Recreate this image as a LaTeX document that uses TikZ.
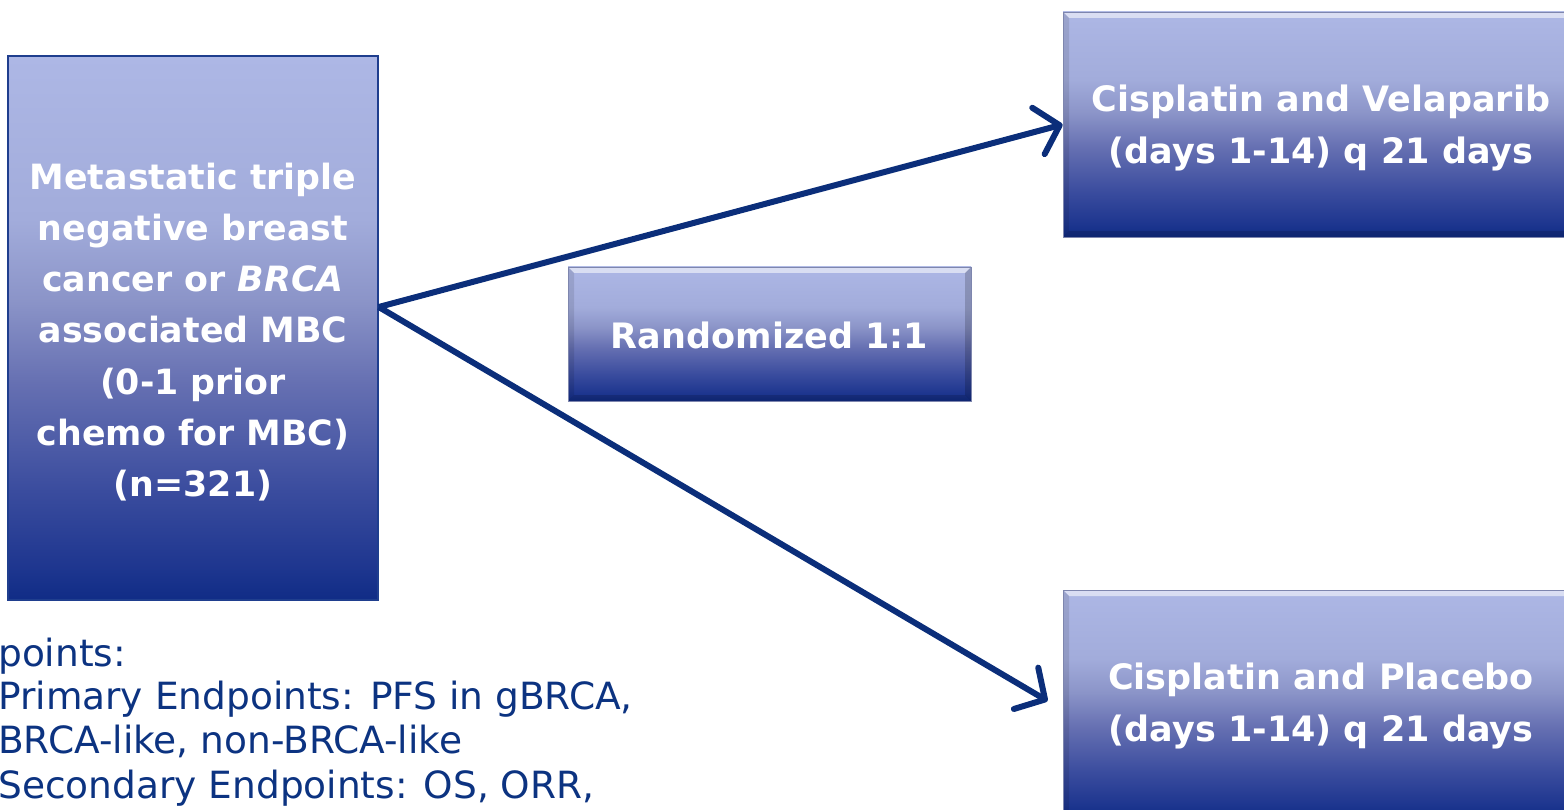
\documentclass[tikz,border=0pt]{standalone}
\usepackage{fontspec}
\setmainfont{DejaVu Sans}
\usetikzlibrary{arrows.meta}

\definecolor{arrowblue}{HTML}{0B2E7A}
\definecolor{notetext}{HTML}{0C3381}
\definecolor{popedge}{HTML}{1F3E8E}
\definecolor{bevedge}{HTML}{7E86AE}
% vertical gradient of the boxes, bottom (25bp) to top (75bp)
\definecolor{g0}{HTML}{102C86}
\definecolor{g1}{HTML}{1E368F}
\definecolor{g2}{HTML}{3A4C9E}
\definecolor{g3}{HTML}{6670B2}
\definecolor{g4}{HTML}{8B94C8}
\definecolor{g5}{HTML}{A2ACDB}
\definecolor{g6}{HTML}{ADB7E5}
\pgfdeclareverticalshading{boxgrad}{100bp}{%
  color(0bp)=(g0); color(25bp)=(g0); color(28bp)=(g1); color(35bp)=(g2);
  color(45bp)=(g3); color(52.5bp)=(g4); color(60bp)=(g5);
  color(75bp)=(g6); color(100bp)=(g6)}

\tikzset{
  gradbox/.style={shade, shading=boxgrad, inner sep=0pt},
  boxtext/.style={inner sep=0pt, align=center, text=white,
    font=\bfseries\fontsize{35}{52}\selectfont},
  poptext/.style={boxtext, font=\bfseries\fontsize{34.8}{51.2}\selectfont},
  popbox/.style={gradbox, draw=popedge, line width=1.5pt},
  bevelbox/.style={gradbox, draw=bevedge, line width=0.8pt,
    path picture={
      \fill[white, opacity=0.55]
        (path picture bounding box.north west) -- (path picture bounding box.north east)
        -- ([xshift=-6pt,yshift=-6pt]path picture bounding box.north east)
        -- ([xshift=6pt,yshift=-6pt]path picture bounding box.north west) -- cycle;
      \fill[black, opacity=0.10]
        (path picture bounding box.north west) -- ([xshift=6pt,yshift=-6pt]path picture bounding box.north west)
        -- ([xshift=6pt,yshift=6pt]path picture bounding box.south west)
        -- (path picture bounding box.south west) -- cycle;
      \fill[black, opacity=0.18]
        (path picture bounding box.north east) -- ([xshift=-6pt,yshift=-6pt]path picture bounding box.north east)
        -- ([xshift=-6pt,yshift=6pt]path picture bounding box.south east)
        -- (path picture bounding box.south east) -- cycle;
      \fill[black, opacity=0.15]
        (path picture bounding box.south west) -- ([xshift=6pt,yshift=6pt]path picture bounding box.south west)
        -- ([xshift=-6pt,yshift=6pt]path picture bounding box.south east)
        -- (path picture bounding box.south east) -- cycle;
    }},
  arrowline/.style={draw=arrowblue, line width=6pt,
    -{Straight Barb[length=22pt, width=48pt, round]}},
  note/.style={anchor=base west, inner sep=0pt, text=notetext,
    font=\fontsize{37.5}{44}\selectfont}
}

\begin{document}
\begin{tikzpicture}[x=1pt, y=-1pt]
\useasboundingbox (0,0) rectangle (1564,810);
\clip (0,0) rectangle (1564,810);

% patient population
\node[popbox, minimum width=370pt, minimum height=544pt] (pop) at (193,328) {};
\node[poptext] (poptxt) at ([yshift=-4pt]pop.center)
  {Metastatic triple\\negative breast\\cancer or \textit{BRCA}\\associated MBC\\(0-1 prior\\chemo for MBC)\\(n=321)};

% randomisation
\node[bevelbox, minimum width=403pt, minimum height=134pt] (rand) at (769.5,334) {};
\node[boxtext] (randtxt) at ([yshift=-1pt]rand.center) {Randomized 1:1};

% treatment arms
\node[bevelbox, minimum width=516pt, minimum height=225pt] (armA) at (1321,124.5) {};
\node[boxtext] (armAtxt) at ([yshift=-3pt]armA.center)
  {Cisplatin and Velaparib\\(days 1-14) q 21 days};
\node[bevelbox, minimum width=516pt, minimum height=228pt] (armB) at (1321,704) {};
\node[boxtext] (armBtxt) at ([yshift=-2pt]armB.center)
  {Cisplatin and Placebo\\(days 1-14) q 21 days};

% allocation arrows
\draw[arrowline] ([yshift=21pt]pop.east) -- (armA.west);
\draw[arrowline] ([yshift=21pt]pop.east) -- ([xshift=-15pt,yshift=3pt]armB.west);

% endpoints
\node[note] (ep1) at (-2,666) {points:};
\node[note] (ep2) at (-2,709) {Primary Endpoints: PFS in gBRCA,};
\node[note] (ep3) at (-2,753.5) {BRCA-like, non-BRCA-like};
\node[note] (ep4) at (-2,798) {Secondary Endpoints: OS, ORR,};
\end{tikzpicture}
\end{document}
